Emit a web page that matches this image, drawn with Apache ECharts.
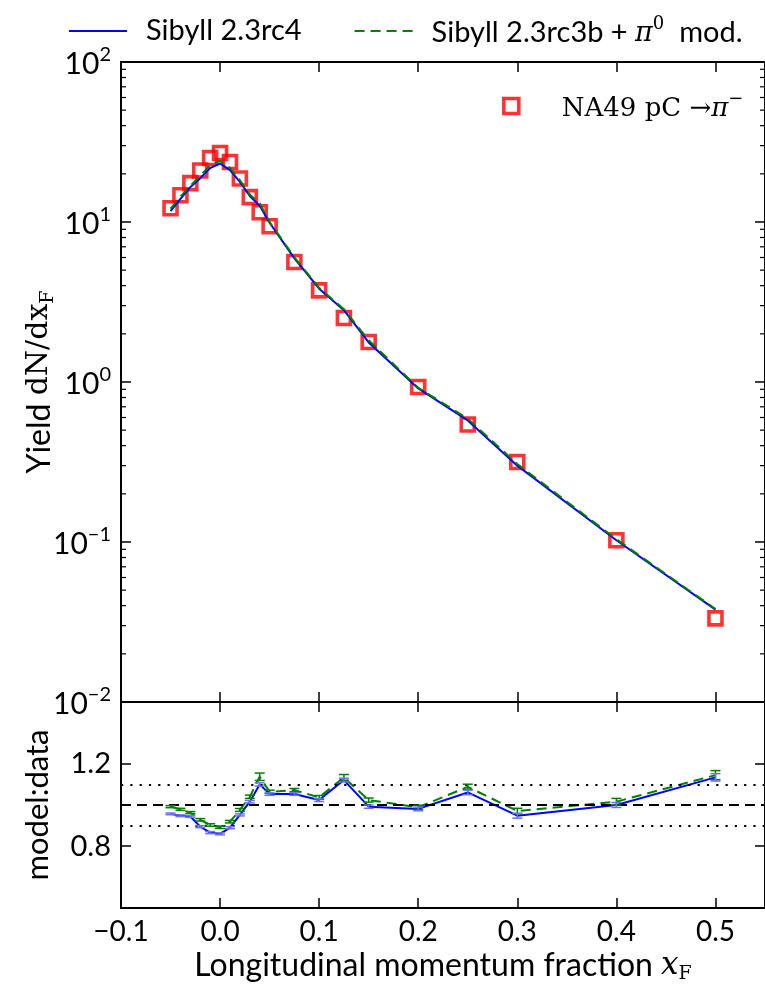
<!DOCTYPE html>
<html>
<head>
<meta charset="utf-8">
<script src="https://cdn.jsdelivr.net/npm/echarts@6/dist/echarts.min.js"></script>
<style>
  html, body { margin: 0; padding: 0; background: #ffffff; }
  #chart { width: 765px; height: 988px; }
</style>
</head>
<body>
<div id="chart"></div>
<script>
// Feynman-x bins of the NA49 p+C -> pi- measurement
const xF = [-0.05, -0.04, -0.03, -0.02, -0.01, 0.0, 0.01, 0.02, 0.03, 0.04, 0.05,
            0.075, 0.1, 0.125, 0.15, 0.2, 0.25, 0.3, 0.4, 0.5];

// Measured yield dN/dxF
const na49Yield = [12.2, 14.7, 17.5, 21.0, 25.1, 27.0, 23.7, 18.7, 14.3, 11.5, 9.4,
                   5.62, 3.74, 2.51, 1.78, 0.93, 0.542, 0.316, 0.1025, 0.0333];

// Model yields
const rc4Yield = [11.68, 13.94, 16.52, 18.80, 21.74, 23.22, 21.09, 17.80, 14.53, 12.65, 9.90,
                  5.92, 3.83, 2.81, 1.766, 0.912, 0.575, 0.300, 0.1025, 0.0378];
const rc3bYield = [12.10, 14.39, 16.85, 19.49, 22.67, 24.08, 21.78, 18.25, 14.87, 13.08, 10.00,
                   6.02, 3.88, 2.85, 1.823, 0.920, 0.590, 0.307, 0.1041, 0.0381];

// Model / data ratios and their uncertainties
const rc4Ratio = [0.957, 0.948, 0.944, 0.895, 0.866, 0.860, 0.890, 0.952, 1.016, 1.100, 1.053,
                  1.053, 1.024, 1.121, 0.992, 0.981, 1.061, 0.948, 1.000, 1.134];
const rc3bRatio = [0.992, 0.979, 0.963, 0.928, 0.903, 0.892, 0.919, 0.976, 1.040, 1.137, 1.064,
                   1.072, 1.037, 1.134, 1.024, 0.989, 1.088, 0.971, 1.016, 1.145];
const rc4RatioErr = [0.004, 0.004, 0.004, 0.005, 0.005, 0.005, 0.005, 0.005, 0.006, 0.008, 0.006,
                     0.006, 0.007, 0.009, 0.008, 0.009, 0.011, 0.012, 0.012, 0.018];
const rc3bRatioErr = [0.005, 0.005, 0.005, 0.006, 0.006, 0.006, 0.006, 0.007, 0.008, 0.018, 0.008,
                      0.008, 0.009, 0.014, 0.010, 0.010, 0.013, 0.013, 0.016, 0.022];

// Axis ticks
const xTicks = [-0.1, 0.0, 0.1, 0.2, 0.3, 0.4, 0.5];
const ratioTicks = [0.8, 1.2];
const ratioRefLines = [0.9, 1.1];

const X_MIN = -0.1, X_MAX = 0.55;
const Y_MIN = 0.01, Y_MAX = 100;

const SANS = "Lato, 'Open Sans', sans-serif";
const SERIF = "'DejaVu Serif', 'Liberation Serif', serif";

const NAME_RC4 = 'Sibyll 2.3rc4';
const NAME_RC3B = 'Sibyll 2.3rc3b + π0 mod.';
const NAME_NA49 = 'NA49 pC→π−';

const SQUARE_STYLE = { color: 'rgba(255,255,255,0)', borderColor: '#ff0000', borderWidth: 3.6 };

// log-axis minor tick positions (2..9 per decade)
const minorTickValues = [];
for (let k = -2; k < 2; k++) {
  for (let m = 2; m < 10; m++) minorTickValues.push(m * Math.pow(10, k));
}

const chart = echarts.init(document.getElementById('chart'), null, { renderer: 'canvas' });

function zip(xs, ys) { return xs.map((x, i) => [x, ys[i]]); }

function errorBarItem(params, api) {
  const x = api.value(0);
  const p0 = api.coord([x, api.value(1)]);
  const p1 = api.coord([x, api.value(2)]);
  const w = 5;
  const style = { stroke: api.visual('color'), lineWidth: 1.5 };
  return {
    type: 'group',
    children: [
      { type: 'line', shape: { x1: p0[0], y1: p0[1], x2: p1[0], y2: p1[1] }, style },
      { type: 'line', shape: { x1: p0[0] - w, y1: p0[1], x2: p0[0] + w, y2: p0[1] }, style },
      { type: 'line', shape: { x1: p1[0] - w, y1: p1[1], x2: p1[0] + w, y2: p1[1] }, style }
    ]
  };
}

function minorTickItem(params, api) {
  const v = api.value(1);
  const pl = api.coord([X_MIN, v]);
  const pr = api.coord([X_MAX, v]);
  const len = 5;
  const style = { stroke: '#000', lineWidth: 1.2 };
  return {
    type: 'group',
    children: [
      { type: 'line', shape: { x1: pl[0], y1: pl[1], x2: pl[0] + len, y2: pl[1] }, style },
      { type: 'line', shape: { x1: pr[0], y1: pr[1], x2: pr[0] - len, y2: pr[1] }, style }
    ]
  };
}

const tickStyle = { show: true, inside: true, length: 10, lineStyle: { color: '#000', width: 1.5 } };
const hiddenLine = { show: false, onZero: false };

function xAxisDef(gridIndex, position, withLabels) {
  return {
    type: 'value', gridIndex, position, min: X_MIN, max: X_MAX, interval: 0.1,
    axisLine: hiddenLine,
    splitLine: { show: false },
    axisTick: Object.assign({ customValues: xTicks }, tickStyle),
    axisLabel: withLabels ? {
      show: true, customValues: xTicks, margin: 10,
      fontFamily: SANS, fontSize: 28, color: '#000',
      formatter: v => (v < 0 ? '\u2212' : '') + Math.abs(v).toFixed(1)
    } : { show: false }
  };
}

const supRich = {
  b: { fontFamily: SANS, fontSize: 30, color: '#000', verticalAlign: 'bottom' },
  e: { fontFamily: SANS, fontSize: 20, color: '#000', padding: [0, 0, 15, 0], verticalAlign: 'bottom' }
};

const option = {
  backgroundColor: '#ffffff',
  animation: false,
  grid: [
    { left: 121, top: 62, width: 648, height: 640, show: true, borderColor: '#000', borderWidth: 2, backgroundColor: 'transparent' },
    { left: 121, top: 702, width: 648, height: 206, show: true, borderColor: '#000', borderWidth: 2, backgroundColor: 'transparent' }
  ],
  legend: [
    {
      data: [NAME_RC4, NAME_RC3B],
      left: 63, top: 10, itemWidth: 58, itemHeight: 14, itemGap: 52,
      selectedMode: false,
      itemStyle: { color: 'rgba(0,0,0,0)', borderWidth: 0 },
      formatter: name => name === NAME_RC3B
        ? '{t|Sibyll 2.3rc3b + }{p|π}{s|0}{t|  mod.}'
        : '{t|' + name + '}',
      textStyle: {
        padding: [0, 0, 0, 14],
        rich: {
          t: { fontFamily: SANS, fontSize: 29, color: '#000', verticalAlign: 'bottom' },
          p: { fontFamily: SERIF, fontSize: 27, fontStyle: 'italic', color: '#000', verticalAlign: 'bottom' },
          s: { fontFamily: SERIF, fontSize: 18, color: '#000', padding: [0, 0, 14, 0], verticalAlign: 'bottom' }
        }
      }
    },
    {
      data: [NAME_NA49],
      left: 497, top: 85, itemWidth: 15, itemHeight: 15,
      selectedMode: false,
      itemStyle: SQUARE_STYLE,
      formatter: () => '{m|NA49 pC}{a| →}{p|π}{s|−}',
      textStyle: {
        padding: [0, 0, 0, 38],
        rich: {
          m: { fontFamily: SERIF, fontSize: 26, color: '#000', verticalAlign: 'bottom' },
          a: { fontFamily: SERIF, fontSize: 26, color: '#000', verticalAlign: 'bottom' },
          p: { fontFamily: SERIF, fontSize: 26, fontStyle: 'italic', color: '#000', verticalAlign: 'bottom' },
          s: { fontFamily: SERIF, fontSize: 18, color: '#000', padding: [0, 0, 14, 0], verticalAlign: 'bottom' }
        }
      }
    }
  ],
  xAxis: [
    xAxisDef(0, 'bottom', false),
    xAxisDef(0, 'top', false),
    Object.assign(xAxisDef(1, 'bottom', true), {
      name: '{t|Longitudinal momentum fraction }{x|x}{s|F}',
      nameLocation: 'middle', nameGap: 42, nameMoveOverlap: false,
      nameTextStyle: {
        rich: {
          t: { fontFamily: SANS, fontSize: 32, color: '#000', verticalAlign: 'top' },
          x: { fontFamily: SERIF, fontSize: 31, fontStyle: 'italic', color: '#000', verticalAlign: 'top' },
          s: { fontFamily: SERIF, fontSize: 19, color: '#000', padding: [15, 0, 0, 0], verticalAlign: 'top' }
        }
      }
    }),
    xAxisDef(1, 'top', false)
  ],
  yAxis: [
    {
      type: 'log', logBase: 10, gridIndex: 0, position: 'left', min: Y_MIN, max: Y_MAX,
      axisLine: hiddenLine, splitLine: { show: false },
      axisTick: tickStyle,
      axisLabel: {
        margin: 10,
        formatter: v => {
          const e = Math.round(Math.log10(v));
          return '{b|10}{e|' + (e < 0 ? '\u2212' + (-e) : e) + '}';
        },
        rich: supRich
      },
      name: '{t|Yield }{m|dN/dx}{s|F}',
      nameLocation: 'middle', nameRotate: 90, nameGap: 63, nameMoveOverlap: false,
      nameTextStyle: {
        rich: {
          t: { fontFamily: SANS, fontSize: 32, color: '#000', verticalAlign: 'top' },
          m: { fontFamily: SERIF, fontSize: 30, color: '#000', verticalAlign: 'top' },
          s: { fontFamily: SERIF, fontSize: 19, color: '#000', padding: [15, 0, 0, 0], verticalAlign: 'top' }
        }
      }
    },
    {
      type: 'log', logBase: 10, gridIndex: 0, position: 'right', min: Y_MIN, max: Y_MAX,
      axisLine: hiddenLine, splitLine: { show: false },
      axisTick: tickStyle, axisLabel: { show: false }
    },
    {
      type: 'value', gridIndex: 1, position: 'left', min: 0.5, max: 1.5,
      axisLine: hiddenLine, splitLine: { show: false },
      axisTick: Object.assign({ customValues: ratioTicks }, tickStyle),
      axisLabel: {
        customValues: ratioTicks, margin: 10,
        fontFamily: SANS, fontSize: 29, color: '#000',
        formatter: v => v.toFixed(1)
      },
      name: 'model:data',
      nameLocation: 'middle', nameRotate: 90, nameGap: 68, nameMoveOverlap: false,
      nameTextStyle: { fontFamily: SANS, fontSize: 31, color: '#000', verticalAlign: 'bottom' }
    },
    {
      type: 'value', gridIndex: 1, position: 'right', min: 0.5, max: 1.5,
      axisLine: hiddenLine, splitLine: { show: false },
      axisTick: Object.assign({ customValues: ratioTicks }, tickStyle),
      axisLabel: { show: false }
    }
  ],
  series: [
    {
      name: NAME_NA49, type: 'scatter', xAxisIndex: 0, yAxisIndex: 0,
      data: zip(xF, na49Yield),
      symbol: 'rect', symbolSize: 13,
      itemStyle: SQUARE_STYLE,
      z: 2
    },
    {
      name: NAME_RC4, type: 'line', xAxisIndex: 0, yAxisIndex: 0,
      data: zip(xF, rc4Yield), symbol: 'none',
      lineStyle: { color: '#0000ff', width: 2 }, itemStyle: { color: '#0000ff' },
      z: 3
    },
    {
      name: NAME_RC3B, type: 'line', xAxisIndex: 0, yAxisIndex: 0,
      data: zip(xF, rc3bYield), symbol: 'none',
      lineStyle: { color: '#008000', width: 2, type: [10, 6] }, itemStyle: { color: '#008000' },
      z: 4
    },
    {
      type: 'custom', xAxisIndex: 0, yAxisIndex: 0,
      data: minorTickValues.map(v => [X_MIN, v]),
      encode: { x: 0, y: 1 },
      renderItem: minorTickItem, silent: true, clip: false, z: 1
    },
    {
      name: 'rc3b ratio', type: 'line', xAxisIndex: 2, yAxisIndex: 2,
      data: zip(xF, rc3bRatio), symbol: 'none',
      lineStyle: { color: '#008000', width: 2, type: [10, 6] },
      z: 3,
      markLine: {
        silent: true, symbol: 'none', label: { show: false },
        data: [
          { yAxis: 1.0, lineStyle: { color: '#000', width: 2, type: [10, 6] } },
          { yAxis: ratioRefLines[0], lineStyle: { color: '#000', width: 2.2, type: [2.2, 7.1] } },
          { yAxis: ratioRefLines[1], lineStyle: { color: '#000', width: 2.2, type: [2.2, 7.1] } }
        ]
      }
    },
    {
      name: 'rc4 ratio', type: 'line', xAxisIndex: 2, yAxisIndex: 2,
      data: zip(xF, rc4Ratio), symbol: 'none',
      lineStyle: { color: '#0000ff', width: 2 },
      z: 4
    },
    {
      type: 'custom', xAxisIndex: 2, yAxisIndex: 2,
      data: xF.map((x, i) => [x, rc3bRatio[i] - rc3bRatioErr[i], rc3bRatio[i] + rc3bRatioErr[i]]),
      encode: { x: 0, y: [1, 2] },
      itemStyle: { color: '#008000' },
      renderItem: errorBarItem, silent: true, z: 5
    },
    {
      type: 'custom', xAxisIndex: 2, yAxisIndex: 2,
      data: xF.map((x, i) => [x, rc4Ratio[i] - rc4RatioErr[i], rc4Ratio[i] + rc4RatioErr[i]]),
      encode: { x: 0, y: [1, 2] },
      itemStyle: { color: '#6f6fff' },
      renderItem: errorBarItem, silent: true, z: 5
    }
  ]
};

chart.setOption(option);
</script>
</body>
</html>
